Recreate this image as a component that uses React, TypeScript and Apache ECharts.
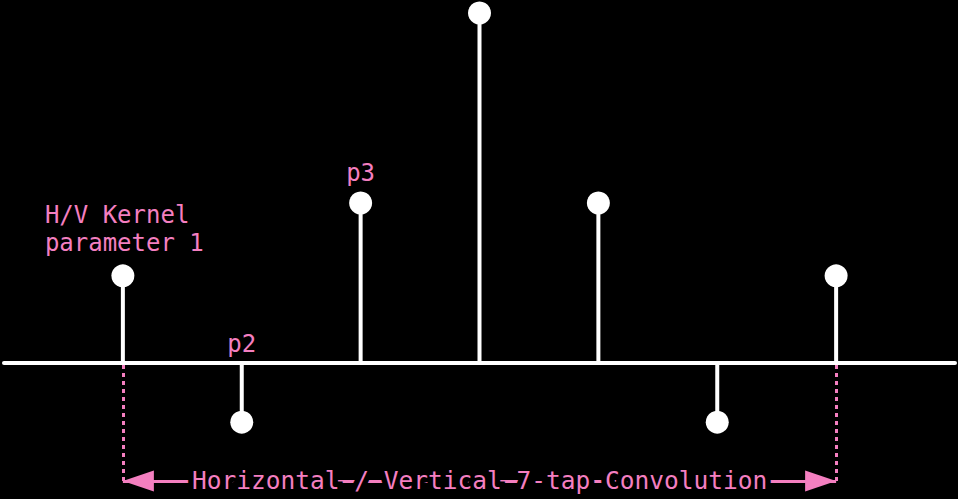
import React, { useEffect, useRef } from "react";
import * as echarts from "echarts";

const taps = [0, 1, 2, 3, 4, 5, 6];
const kernel = [0.249, -0.169, 0.457, 1.0, 0.457, -0.169, 0.249];
const tapLabels = ["H/V Kernel\nparameter 1", "p2", "p3", "", "", "", ""];
const spanLabel = "Horizontal / Vertical 7-tap Convolution";
const spanLevel = -0.337;
const spanFrom = 0;
const spanTo = 6;

const PINK = "#f47fc0";
const FONT = "'DejaVu Sans Mono', monospace";

const labelOffsets: Record<number, any> = {
  0: { align: "left", offset: [-78, -2] },
  1: { align: "center", offset: [0, -48] },
  2: { align: "center", offset: [0, 0] },
};

export default function App() {
  const ref = useRef<HTMLDivElement>(null);
  useEffect(() => {
    if (!ref.current) return;
    const chart = echarts.init(ref.current, null, { renderer: "svg" });
    const points = taps.map((t, i) => {
      const item: any = { value: [t, kernel[i]] };
      if (tapLabels[i]) {
        item.label = {
          show: true,
          formatter: tapLabels[i],
          position: "top",
          verticalAlign: "bottom",
          color: PINK,
          fontFamily: FONT,
          fontSize: 24,
          lineHeight: 28,
          ...labelOffsets[i],
        };
      }
      return item;
    });
    chart.setOption({
      animation: false,
      backgroundColor: "#000",
      grid: { left: 4, right: 3, top: 13, height: 483 },
      xAxis: {
        type: "value",
        min: -1,
        max: 7,
        axisLine: {
          show: true,
          onZero: true,
          lineStyle: { color: "#fff", width: 4, cap: "round" },
        },
        axisTick: { show: false },
        axisLabel: { show: false },
        splitLine: { show: false },
      },
      yAxis: {
        type: "value",
        min: -0.38,
        max: 1.0,
        show: false,
        splitLine: { show: false },
      },
      series: [
        {
          type: "bar",
          data: taps.map((t, i) => [t, kernel[i]]),
          barWidth: 4,
          itemStyle: { color: "#fff" },
          silent: true,
          markLine: {
            silent: true,
            animation: false,
            data: [
              [
                { coord: [spanFrom, -0.006], symbol: "none" },
                {
                  coord: [spanFrom, spanLevel],
                  symbol: "none",
                  label: { show: false },
                  lineStyle: { color: PINK, width: 3, type: [4, 4] },
                },
              ],
              [
                { coord: [spanTo, -0.006], symbol: "none" },
                {
                  coord: [spanTo, spanLevel],
                  symbol: "none",
                  label: { show: false },
                  lineStyle: { color: PINK, width: 3, type: [4, 4] },
                },
              ],
              [
                {
                  coord: [spanFrom, spanLevel],
                  symbol: "triangle",
                  symbolSize: [21, 31],
                  symbolOffset: [0, 15.5],
                },
                {
                  coord: [spanTo, spanLevel],
                  symbol: "triangle",
                  symbolSize: [21, 31],
                  symbolOffset: [0, 15.5],
                  label: {
                    show: true,
                    position: "middle",
                    formatter: spanLabel,
                    color: PINK,
                    fontFamily: FONT,
                    fontSize: 24.5,
                    verticalAlign: "middle",
                    distance: 0,
                    textBorderColor: "#000",
                    textBorderWidth: 11,
                  },
                  lineStyle: { color: PINK, width: 3, type: "solid" },
                },
              ],
            ],
          },
        },
        {
          type: "scatter",
          data: points,
          symbol: "circle",
          symbolSize: 23,
          itemStyle: { color: "#fff", opacity: 1 },
          silent: true,
        },
      ],
    });
    return () => chart.dispose();
  }, []);
  return (
    <div
      ref={ref}
      style={{ position: "fixed", left: 0, top: 0, width: 958, height: 499, background: "#000" }}
    />
  );
}
